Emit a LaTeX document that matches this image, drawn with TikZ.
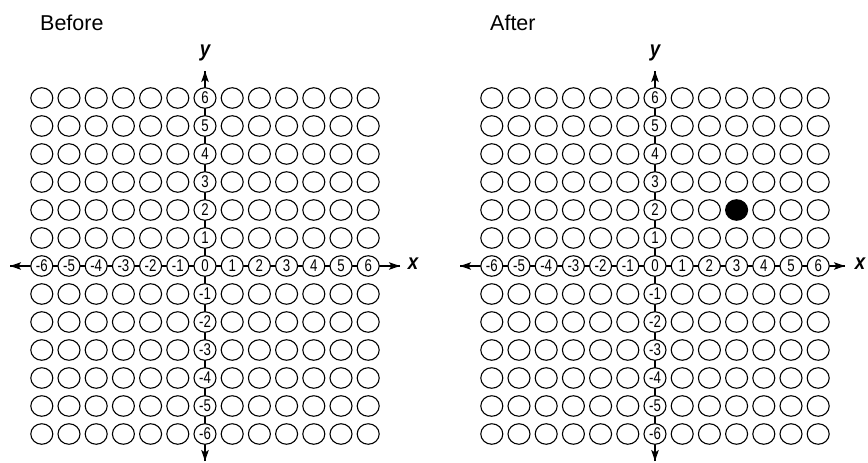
\documentclass[tikz,border=0pt]{standalone}
\usepackage{fontspec}
\setmainfont{Liberation Sans}
\newfontfamily\narrowfont[FakeStretch=0.78]{Liberation Sans}
\newfontfamily\axisfont[FakeStretch=0.85]{Liberation Sans}
\usetikzlibrary{arrows.meta,shapes.geometric}
\begin{document}
\begin{tikzpicture}[x=1pt,y=-1pt,
  axisline/.style={line width=1.3pt,-{Stealth[length=11pt,width=7.5pt,inset=2.5pt]}},
  dot/.style={ellipse,draw,line width=1.1pt,minimum width=22pt,minimum height=20.5pt,inner sep=0pt,
    font=\narrowfont\fontsize{17}{17}\selectfont},
  axlabel/.style={font=\axisfont\bfseries\itshape\fontsize{22}{22}\selectfont,inner sep=0pt},
  title/.style={font=\fontsize{21.5}{22}\selectfont,anchor=west,inner sep=0pt}]
\useasboundingbox (0,0) rectangle (868,463);
\node[title] (before) at (40,23) {Before};
\node[title] (after) at (490,23) {After};
\foreach \p/\cx/\xr/\lx in {L/205/400/413, R/655/845/860}{
  \coordinate (\p xl) at (\cx-195,266);
  \coordinate (\p xr) at (\xr,266);
  \coordinate (\p yt) at (\cx,71);
  \coordinate (\p yb) at (\cx,461);
  \draw[axisline] (\p xl) -- (\p xr);
  \draw[axisline] (\p xr) -- (\p xl);
  \draw[axisline] (\p yb) -- (\p yt);
  \draw[axisline] (\p yt) -- (\p yb);
  \node[axlabel] (\p xlab) at (\lx,264) {x};
  \node[axlabel] (\p ylab) at (\cx,53) {y};
  \foreach \i in {-6,...,6}{
    \foreach \j in {-6,...,6}{
      \def\fc{white}
      \ifnum\cx=655 \ifnum\i=3 \ifnum\j=2 \def\fc{black}\fi\fi\fi
      \node[dot,fill=\fc] (\p c\i r\j) at (\cx+\i*27.2,266-\j*28)
        {\ifnum\j=0 \i\else\ifnum\i=0 \j\fi\fi};
    }
  }
}
\end{tikzpicture}
\end{document}
